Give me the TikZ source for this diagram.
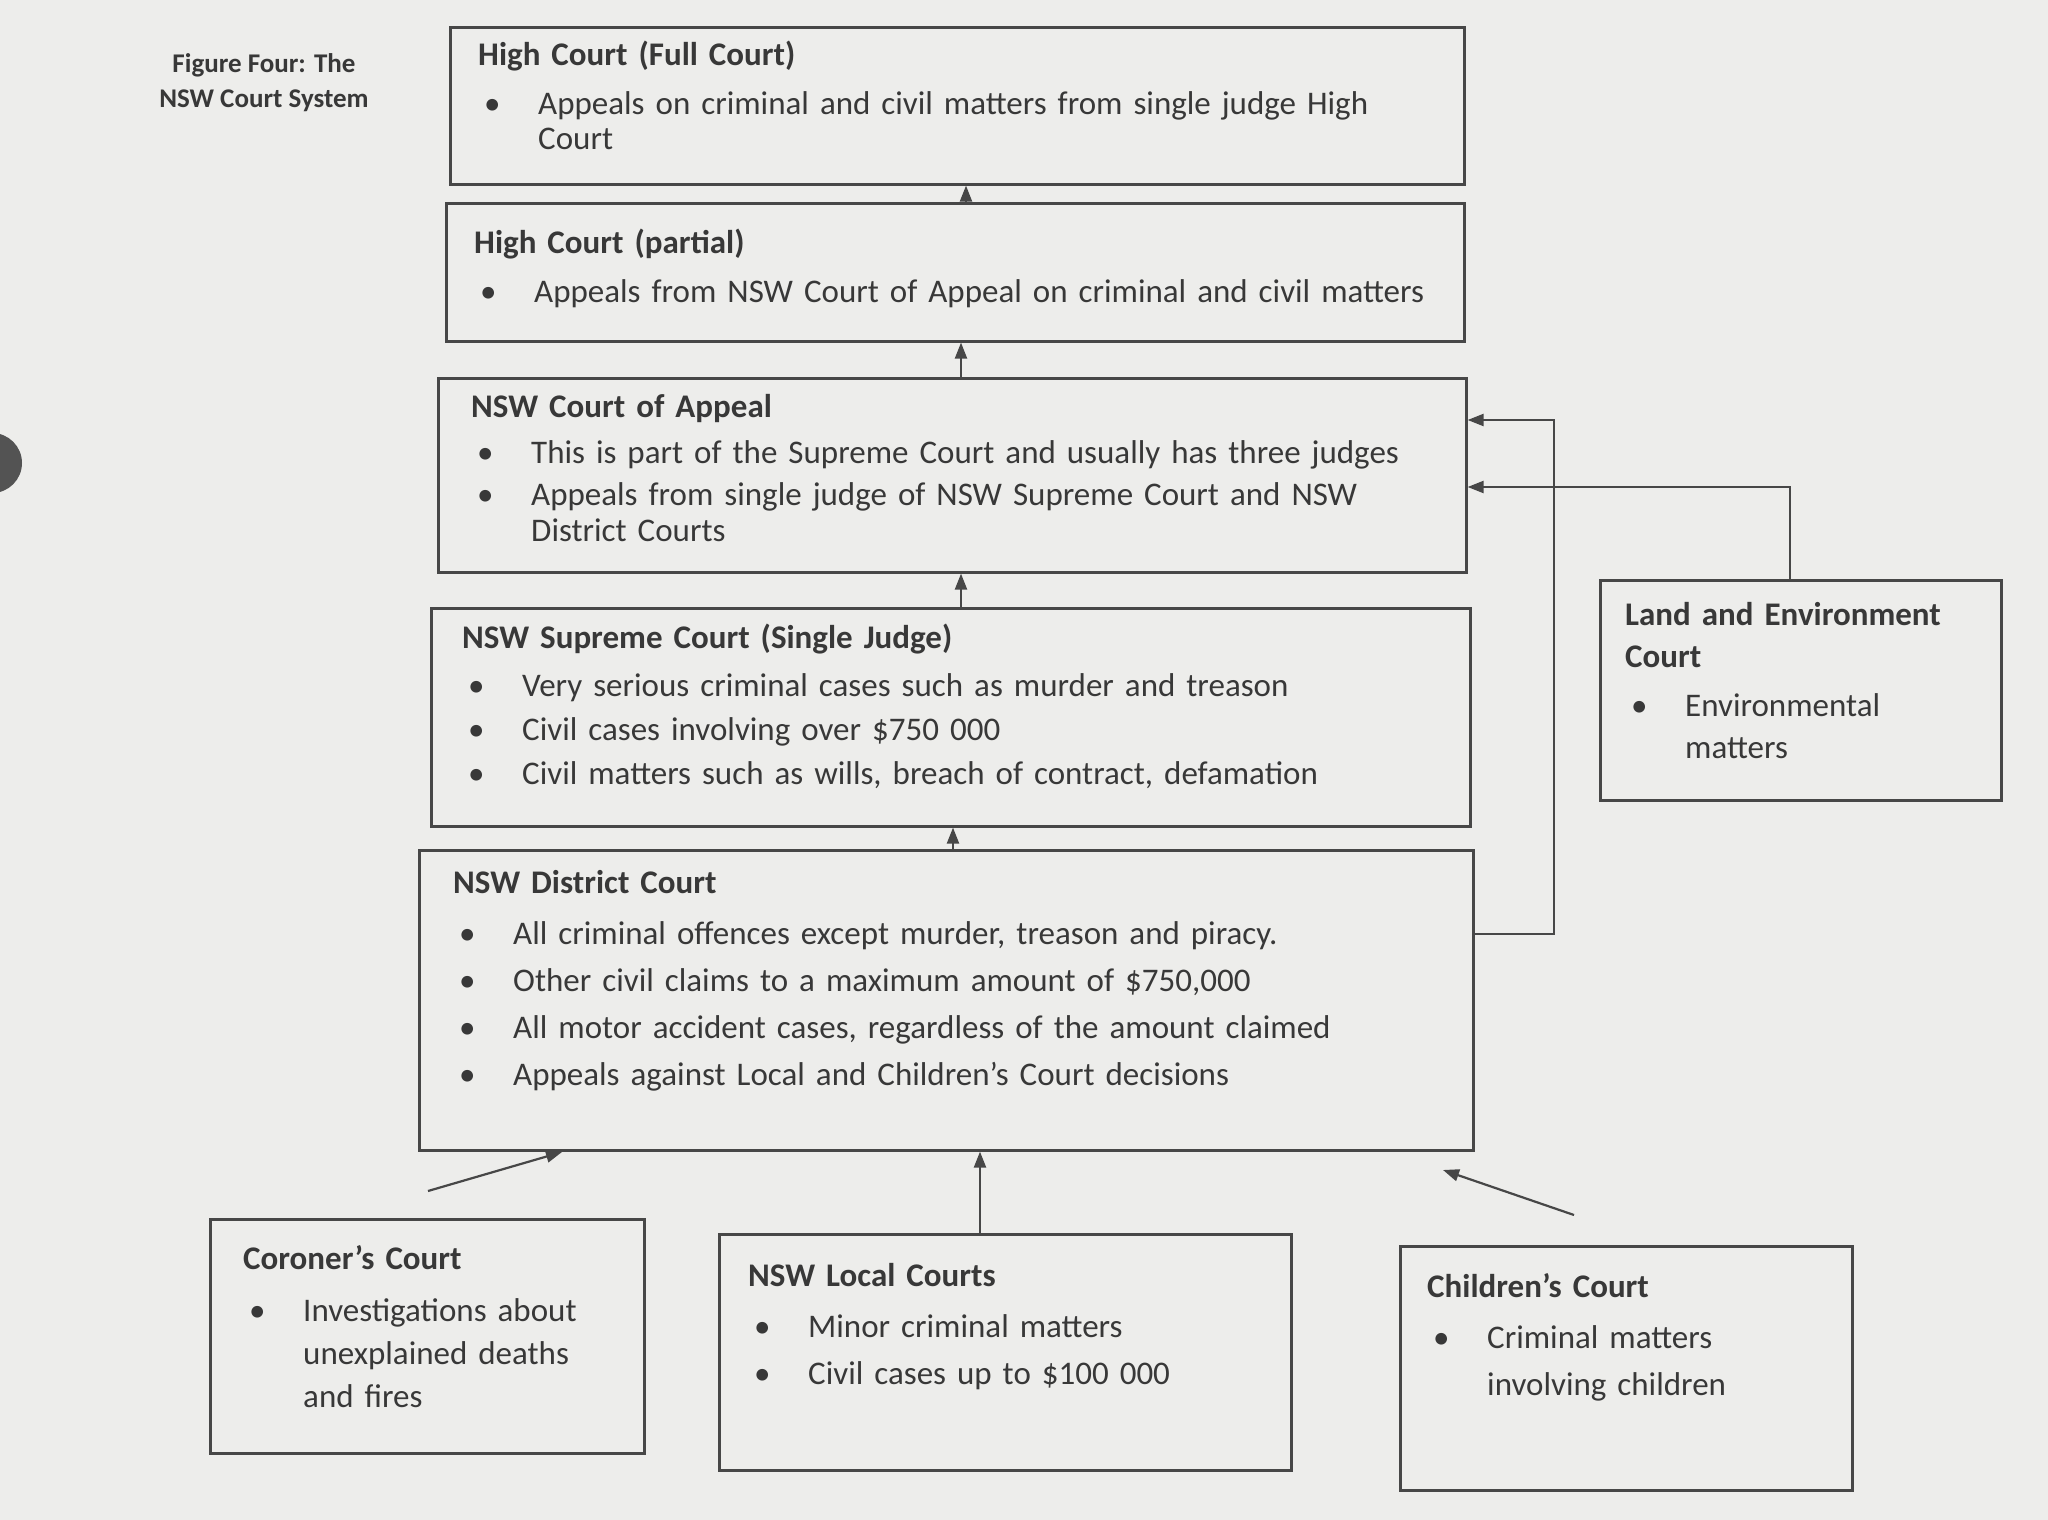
\documentclass[tikz,border=0pt]{standalone}
\usepackage{fontspec}
\setmainfont{Carlito}
\usetikzlibrary{arrows.meta,calc}
\definecolor{bg}{HTML}{EDEDEB}
\definecolor{ink}{HTML}{383838}
\definecolor{linec}{HTML}{474747}
\newcommand{\btitle}[1]{\noindent\rule{0pt}{25pt}{\bfseries #1}\par\vspace{4pt}}
\newcommand{\bitem}[1]{\noindent\hangindent=60pt\hangafter=1\makebox[60pt][l]{\hspace{6pt}\textbullet}\strut#1\par}
\tikzset{
  courtbox/.style={draw=linec, line width=2.6pt, anchor=north west, inner sep=0pt},
  courttext/.style 2 args={anchor=north west, inner sep=0pt, text=ink, text width=1100pt,
    font=\fontsize{33}{#1}\selectfont\raggedright\setlength{\parskip}{#2pt}\setlength{\parindent}{0pt}},
  arr/.style={draw=linec, line width=2.2pt, -{Triangle[length=16pt,width=12pt]}},
}
\begin{document}
\begin{tikzpicture}[x=1pt,y=-1pt]
\fill[bg] (0,0) rectangle (2048,1520);
\useasboundingbox (0,0) rectangle (2048,1520);
% punch hole
\fill[gray!65!black] (-8,463) circle (30);

\node[anchor=center, text=ink, align=center, font=\bfseries\fontsize{27}{35}\selectfont] (cap) at (264,83) {Figure Four: The\\NSW Court System};

% boxes
\node[courtbox, minimum width=1014pt, minimum height=157pt] (b1) at (449,26) {};
\node[courtbox, minimum width=1018pt, minimum height=138pt] (b2) at (445,202) {};
\node[courtbox, minimum width=1028pt, minimum height=194pt] (b3) at (437,377) {};
\node[courtbox, minimum width=1039pt, minimum height=218pt] (b4) at (430,607) {};
\node[courtbox, minimum width=1054pt, minimum height=300pt] (b5) at (418,849) {};
\node[courtbox, minimum width=401pt, minimum height=220pt] (land) at (1599,579) {};
\node[courtbox, minimum width=434pt, minimum height=234pt] (cor) at (209,1218) {};
\node[courtbox, minimum width=572pt, minimum height=236pt] (loc) at (718,1233) {};
\node[courtbox, minimum width=452pt, minimum height=244pt] (chi) at (1399,1245) {};

% texts
\node[courttext={35}{10}] (t1) at (478,40) {\btitle{High Court (Full Court)}
\bitem{Appeals on criminal and civil matters from single judge High\newline Court}};
\node[courttext={39}{6}] (t2) at (474,228) {\btitle{High Court (partial)}
\bitem{Appeals from NSW Court of Appeal on criminal and civil matters}};
\node[courttext={36}{6}] (t3) at (471,392) {\btitle{NSW Court of Appeal}
\bitem{This is part of the Supreme Court and usually has three judges}
\bitem{Appeals from single judge of NSW Supreme Court and NSW\newline District Courts}};
\node[courttext={39}{5}] (t4) at (462,623) {\btitle{NSW Supreme Court (Single Judge)}
\bitem{Very serious criminal cases such as murder and treason}
\bitem{Civil cases involving over \$750 000}
\bitem{Civil matters such as wills, breach of contract, defamation}};
\node[courttext={40}{7}] (t5) at (453,868) {\btitle{NSW District Court}
\bitem{All criminal offences except murder, treason and piracy.}
\bitem{Other civil claims to a maximum amount of \$750,000}
\bitem{All motor accident cases, regardless of the amount claimed}
\bitem{Appeals against Local and Children’s Court decisions}};
\node[courttext={42}{3}] (tl) at (1625,600) {\noindent\rule{0pt}{25pt}{\bfseries Land and Environment\newline Court}\par\vspace{4pt}
\bitem{Environmental\newline matters}};
\node[courttext={43}{5}] (tc) at (243,1244) {\btitle{Coroner’s Court}
\bitem{Investigations about\newline unexplained deaths\newline and fires}};
\node[courttext={43}{4}] (tlo) at (748,1261) {\btitle{NSW Local Courts}
\bitem{Minor criminal matters}
\bitem{Civil cases up to \$100 000}};
\node[courttext={47}{0}] (tch) at (1427,1272) {\btitle{Children’s Court}
\bitem{Criminal matters\newline involving children}};

% connectors
\coordinate (x1) at (966,0);
\coordinate (x2) at (961,0);
\coordinate (x3) at (953,0);
\coordinate (x4) at (980,0);
\draw[arr] (b2.north -| x1) -- (b1.south -| x1);
\draw[arr] (b3.north -| x2) -- (b2.south -| x2);
\draw[arr] (b4.north -| x2) -- (b3.south -| x2);
\draw[arr] (b5.north -| x3) -- (b4.south -| x3);
\draw[arr] (loc.north -| x4) -- (b5.south -| x4);

\coordinate (r1) at (1554,934);
\coordinate (r2) at (1554,420);
\draw[arr] (b5.east |- r1) -- (r1) -- (r2) -- (b3.east |- r2);
\coordinate (l1) at (1790,487);
\draw[arr] (land.north -| l1) -- (l1) -- (b3.east |- l1);

\coordinate (cs) at (428,1191);
\coordinate (ce) at (562,1152);
\draw[arr] (cs) -- (ce);
\coordinate (hs) at (1574,1215);
\coordinate (he) at (1443,1170);
\draw[arr] (hs) -- (he);
\end{tikzpicture}
\end{document}
